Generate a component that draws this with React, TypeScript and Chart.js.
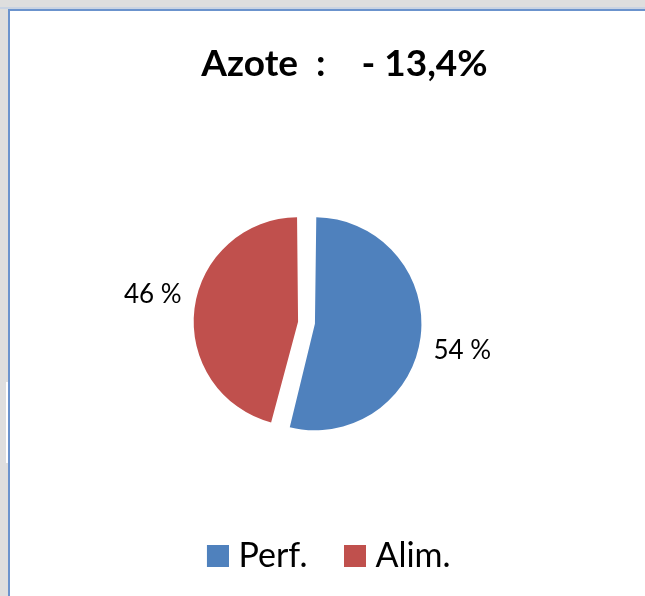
import React, { useEffect, useRef } from "react";
import { Chart, registerables } from "chart.js";

Chart.register(...registerables);

const categories = ["Perf.", "Alim."];
const values = [54, 46];
const valueLabels = ["54 %", "46 %"];
const sliceColors = ["#4f81bd", "#c0504d"];
const titleText = "Azote  :    - 13,4%";

const OFFSET = 34;

const outsideLabels = {
  id: "outsideLabels",
  afterDatasetsDraw(chart: any) {
    const ctx = chart.ctx;
    const meta = chart.getDatasetMeta(0);
    ctx.save();
    ctx.font = "26px Lato";
    ctx.fillStyle = "#000";
    ctx.textBaseline = "middle";
    ctx.textAlign = "center";
    meta.data.forEach((arc: any, i: number) => {
      const p = arc.getProps(["x", "y", "startAngle", "endAngle", "outerRadius", "circumference"], true);
      const mid = (p.startAngle + p.endAngle) / 2;
      const dx = Math.cos(mid);
      const dy = Math.sin(mid);
      const t = OFFSET / 4;
      const fix = 1 - Math.sin(Math.min(Math.PI, p.circumference));
      const r = p.outerRadius + t * fix;
      const cx = p.x + dx * t;
      const cy = p.y + dy * t;
      const text = valueLabels[i];
      const w = ctx.measureText(text).width;
      const h = 20;
      const ax = cx + dx * (r + 13) + Math.sign(dx) * w / 2;
      const ay = cy + dy * (r + 12) + Math.sign(dy) * h * 0.6;
      ctx.fillText(text, ax, ay);
    });
    ctx.restore();
  },
};

const shiftBoxes = {
  id: "shiftBoxes",
  afterLayout(chart: any) {
    const t = chart.titleBlock;
    if (t) {
      t.left += 38;
      t.right += 38;
    }
    const l = chart.legend;
    if (l) {
      l.left += 22;
      l.right += 22;
    }
  },
};

function makeSwatch(color: string) {
  const c = document.createElement("canvas");
  c.width = 30;
  c.height = 22;
  const g = c.getContext("2d")!;
  g.fillStyle = color;
  g.fillRect(8, 0, 22, 22);
  return c;
}

export default function App() {
  const ref = useRef<HTMLCanvasElement>(null);
  useEffect(() => {
    if (!ref.current) return;
    const swatches = sliceColors.map(makeSwatch);
    const chart = new Chart(ref.current, {
      type: "pie",
      data: {
        labels: categories,
        datasets: [
          {
            data: values,
            backgroundColor: sliceColors,
            borderWidth: 0,
            offset: OFFSET,
            radius: 98,
          } as any,
        ],
      },
      options: {
        responsive: false,
        animation: false,
        layout: { padding: { left: 0, right: 32, top: 0, bottom: 13 } },
        plugins: {
          title: {
            display: true,
            text: titleText,
            color: "#000",
            font: { family: "Lato", size: 37, weight: "bold" },
            padding: { top: 42, bottom: 56 },
          },
          legend: {
            position: "bottom",
            labels: {
              usePointStyle: true,
              pointStyleWidth: 15,
              boxHeight: 22,
              padding: 36,
              color: "#000",
              font: { family: "Lato", size: 34 },
              generateLabels: () =>
                categories.map((text, i) => ({
                  text,
                  fillStyle: sliceColors[i],
                  strokeStyle: sliceColors[i],
                  lineWidth: 0,
                  pointStyle: swatches[i],
                  hidden: false,
                  index: i,
                  fontColor: "#000",
                })),
            },
          },
          tooltip: { enabled: false },
        },
      } as any,
      plugins: [outsideLabels, shiftBoxes],
    });
    return () => chart.destroy();
  }, []);

  return (
    <div
      style={{
        position: "fixed",
        left: 0,
        top: 0,
        width: 645,
        height: 596,
        overflow: "hidden",
        background: "#dedede",
      }}
    >
      <div style={{ position: "absolute", left: 6, top: 382, width: 2, height: 81, background: "#ffffff" }} />
      <div
        style={{
          position: "absolute",
          left: 0,
          top: 7,
          width: 700,
          height: 2,
          background: "#c9d3e2",
        }}
      />
      <div
        style={{
          position: "absolute",
          left: 8,
          top: 9,
          width: 700,
          height: 700,
          background: "#ffffff",
          borderTop: "2px solid #6b93cd",
          borderLeft: "2px solid #6b93cd",
          boxSizing: "border-box",
        }}
      />
      <canvas
        ref={ref}
        width={645}
        height={596}
        style={{ position: "absolute", left: 0, top: 0, width: 645, height: 596 }}
      />
    </div>
  );
}
